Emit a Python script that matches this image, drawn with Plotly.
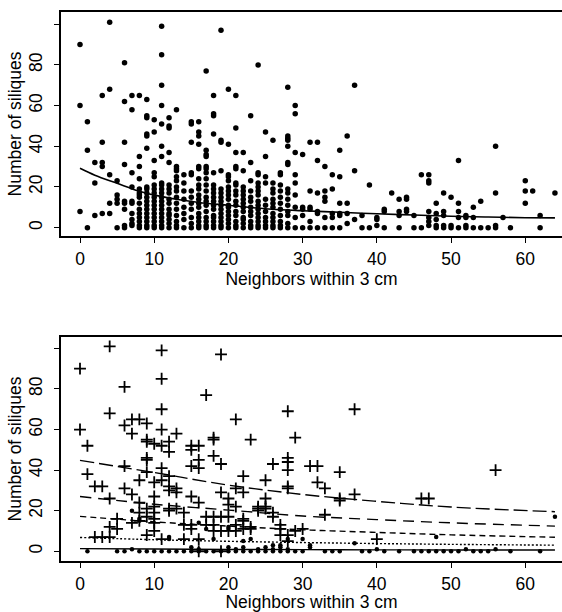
import plotly.graph_objects as go

# ---------------- top panel: all plants ----------------
top_x = [
 0,0,0,
 1,1,1,
 2,2,2,
 3,3,3,3,3,
 4,4,4,4,4,
 5,5,5,5,5,
 6,6,6,6,6,6,6,6,6,
 7,7,7,7,7,7,7,7,7,7,
 8,8,8,8,8,8,8,8,8,8,8,8,8,8,8,
 9,9,9,9,9,9,9,9,9,9,9,9,9,9,9,9,9,9,
 10,10,10,10,10,10,10,10,10,10,10,10,10,10,10,10,10,
 11,11,11,11,11,11,11,11,11,11,11,11,11,11,11,11,11,11,11,11,
 12,12,12,12,12,12,12,12,12,12,12,12,12,12,12,12,
 13,13,13,13,13,13,13,13,13,13,13,13,13,13,13,
 14,14,14,14,14,14,14,14,
 15,15,15,15,15,15,15,15,15,15,15,15,
 16,16,16,16,16,16,16,16,16,16,16,16,16,16,16,16,16,16,
 17,17,17,17,17,17,17,17,17,17,17,17,17,17,17,17,17,17,
 18,18,18,18,18,18,18,18,18,18,18,18,18,18,18,18,18,
 19,19,19,19,19,19,19,19,19,19,19,19,19,19,19,
 20,20,20,20,20,20,20,20,20,20,20,20,20,20,20,20,
 21,21,21,21,21,21,21,21,21,21,21,21,21,21,21,21,
 22,22,22,22,22,22,22,22,22,22,22,22,22,
 23,23,23,23,23,23,23,23,23,23,23,23,
 24,24,24,24,24,24,24,24,24,24,24,24,24,24,24,
 25,25,25,25,25,25,25,25,25,25,25,
 26,26,26,26,26,26,26,26,26,26,26,26,
 27,27,27,27,27,27,27,27,27,27,27,
 28,28,28,28,28,28,28,28,28,28,28,28,28,28,28,
 29,29,29,29,29,29,29,29,29,
 30,30,30,30,30,
 31,31,31,31,31,31,
 32,32,32,32,32,32,
 33,33,33,33,33,33,
 34,34,34,34,34,
 35,35,35,35,35,35,
 36,36,36,36,
 37,37,37,
 38,38,
 39,39,
 40,40,40,
 41,41,41,
 42,
 43,43,43,43,
 44,44,44,44,
 45,45,
 46,46,
 47,47,47,47,47,47,47,
 48,48,48,48,48,
 49,49,49,49,49,
 50,50,50,
 51,51,51,51,51,
 52,52,52,52,
 53,53,53,
 54,54,
 55,
 56,56,56,56,
 57,
 58,
 60,60,60,
 61,
 62,62,
 64,
]
top_y = [
 90,60,8,
 52,38,0,
 32,22,6,
 65,42,32,30,7,
 101,68,26,12,7,
 23,16,14,12,0,
 81,62,42,31,13,12,9,1,0,
 65,58,27,20,13,12,7,4,2,1,
 65,35,30,24,19,17,16,15,12,9,7,5,3,1,0,
 63,55,54,46,45,39,20,19,17,15,13,11,9,7,5,3,1,0,
 53,47,33,27,25,21,19,17,15,13,11,9,7,5,3,1,0,
 99,85,70,60,51,40,35,22,21,19,17,15,13,11,9,7,5,3,1,0,
 54,50,49,37,32,21,19,17,14,12,9,7,6,4,2,0,
 58,30,29,28,25,23,20,18,15,12,9,6,3,1,0,
 26,22,18,14,10,7,4,0,
 52,51,42,27,26,18,15,12,9,5,2,0,
 52,47,45,41,30,29,24,21,19,16,14,12,10,7,5,3,1,0,
 77,38,36,35,30,29,27,24,21,18,15,13,11,8,5,3,1,0,
 65,56,55,46,27,21,19,17,15,13,11,9,6,5,3,1,0,
 97,43,42,28,19,17,15,13,11,9,7,5,3,1,0,
 68,41,26,25,23,20,18,16,14,11,10,8,6,4,2,0,
 65,49,37,30,29,22,21,18,16,13,11,8,6,3,1,0,
 37,28,20,18,16,14,12,10,8,5,4,2,0,
 55,32,23,18,15,13,10,8,6,3,1,0,
 80,27,26,22,20,18,16,13,11,9,7,5,3,1,0,
 47,35,25,22,14,11,8,5,3,1,0,
 43,22,19,17,14,12,10,7,5,3,1,0,
 27,26,21,18,15,12,9,6,3,1,0,
 69,45,44,43,40,32,31,19,17,14,11,8,6,2,0,
 60,56,37,26,22,16,10,5,0,
 36,10,9,6,0,
 42,18,10,9,3,0,
 42,33,17,8,7,0,
 30,18,15,13,5,0,
 26,19,7,5,0,
 38,25,12,7,6,0,
 45,12,7,2,
 70,28,4,
 6,0,
 21,0,
 5,4,1,
 9,8,0,
 17,
 14,8,6,0,
 15,14,9,8,
 6,0,
 26,0,
 26,23,22,8,5,3,1,
 12,7,4,1,0,
 17,8,6,1,0,
 15,1,0,
 33,12,8,5,0,
 6,5,1,0,
 10,5,0,
 13,0,
 0,
 40,17,1,0,
 5,
 0,
 23,18,12,
 18,
 6,0,
 17,
]

# fitted curve, top panel
fit_x = [0, 2, 5, 8, 10, 13, 16, 20, 25, 30, 35, 40, 45, 50, 55, 60, 64]
fit_top = [29.2, 25.8, 21.8, 17.9, 16.0, 14.0, 12.4, 11.0, 9.3, 8.3, 7.6, 6.8, 6.2, 5.6, 5.2, 4.9, 4.8]

# ---------------- bottom panel ----------------
plus_x = [
 0,0, 1,1, 2,2, 3,3, 4,4,4,4,4, 5,5, 6,6,6,6, 7,7,7,7, 8,8,8,8,8,
 9,9,9,9,9,9,9,9,9, 10,10,10,10,10,10,10,10, 11,11,11,11,11,11,11,11,
 12,12,12,12,12,12,12, 13,13,13,13, 14,14,14, 15,15,15,15,15,15, 16,16,16,16,16,16,
 17,17,17, 18,18,18,18,18,18, 19,19,19,19,19,19, 20,20,20,20, 21,21,21,21,21,
 22,22,22,22,22, 23,23,23, 24,24,24, 25,25,25,25, 26,26,26, 27,27,27,
 28,28,28,28,28,28,28,28, 29,29, 30, 31, 32,32, 33,33, 35,35,35, 37,37, 40, 46, 47, 56,
]
plus_y = [
 90,60, 52,38, 32,7, 32,7, 101,68,26,12,7, 16,11, 81,62,42,31, 65,58,28,14, 65,35,24,19,15,
 63,55,54,46,45,39,21,17,8, 53,34,27,22,19,16,14,10, 99,85,70,60,52,41,35,6,
 54,49,37,32,30,21,20, 58,31,29,21, 19,13,6, 52,50,42,27,13,11, 52,45,41,24,6,0,
 77,17,13, 56,55,47,17,13,10, 97,43,29,17,10,0, 26,23,17,10, 65,31,22,13,10,
 37,29,16,15,11, 55,12,11, 22,21,20, 35,26,22,21, 43,19,17, 13,11,8,
 69,46,44,40,32,31,8,5, 56,10, 11, 42, 42,34, 31,18, 39,26,25, 70,28, 6, 26, 26, 40,
]
dot_x = [
 1, 5, 6, 7, 8, 9, 10, 11, 12, 13, 14, 15, 15, 16, 16, 17, 18, 19, 20, 20, 21, 21,
 22, 22, 23, 24, 24, 25, 25, 26, 26, 27, 27, 28, 28, 29, 30, 31, 33, 34, 35, 38, 39,
 40, 41, 43, 45, 46, 47, 48, 49, 50, 51, 52, 53, 54, 55, 56, 58, 62,
 7, 8, 8, 12, 12, 16, 17, 18, 20, 20, 22, 23, 26, 27, 28, 30, 31, 37, 48, 64,
]
dot_y = [
 0, 0, 0, 1, 0, 0, 0, 0, 0, 0, 0, 0, 2, 0, 1, 0, 0, 0, 0, 2, 0, 1,
 0, 2, 0, 0, 1, 0, 2, 0, 1, 0, 2, 0, 1, 0, 0, 2, 0, 0, 0, 0, 0,
 1, 0, 0, 0, 0, 0, 0, 0, 0, 0, 1, 0, 0, 0, 1, 0, 0,
 20, 16, 15, 7, 6, 14, 11, 6, 12, 11, 5, 6, 3, 3, 6, 6, 3, 4, 7, 17,
]

# fitted curves, bottom panel
fit2_x = [0, 10, 20, 30, 40, 50, 64]
fit2_longdash = [44.8, 38.8, 32.6, 28.0, 24.6, 21.8, 19.5]
fit2_dash = [27.0, 23.2, 20.3, 17.4, 15.6, 14.0, 12.4]
fit2_shortdash = [17.2, 14.5, 12.4, 10.6, 9.3, 8.1, 6.9]
fit2_dot = [6.8, 5.7, 4.9, 4.3, 3.8, 3.4, 3.0]
fit2_solid = [1.3, 1.1, 0.9, 0.8, 0.7, 0.6, 0.6]

FONT = "Liberation Sans"
FS = 17.5

fig = go.Figure()

fig.add_trace(go.Scatter(x=top_x, y=top_y, mode="markers", xaxis="x", yaxis="y",
                         marker=dict(symbol="circle", size=5.5, color="black"),
                         showlegend=False))
fig.add_trace(go.Scatter(x=fit_x, y=fit_top, mode="lines", xaxis="x", yaxis="y",
                         line=dict(color="black", width=1.6, shape="spline"),
                         showlegend=False))

fig.add_trace(go.Scatter(x=dot_x, y=dot_y, mode="markers", xaxis="x2", yaxis="y2",
                         marker=dict(symbol="circle", size=4.5, color="black"),
                         showlegend=False))
fig.add_trace(go.Scatter(x=plus_x, y=plus_y, mode="markers", xaxis="x2", yaxis="y2",
                         marker=dict(symbol="cross-thin", size=8.5,
                                     line=dict(color="black", width=1.8)),
                         showlegend=False))
for ys, dash in [(fit2_longdash, "14px,5px"), (fit2_dash, "11px,7px"),
                 (fit2_shortdash, "6px,4px"), (fit2_dot, "2px,2px"),
                 (fit2_solid, "solid")]:
    fig.add_trace(go.Scatter(x=fit2_x, y=ys, mode="lines", xaxis="x2", yaxis="y2",
                             line=dict(color="black", width=1.4, dash=dash, shape="spline"),
                             showlegend=False))

xax = dict(range=[-2.56, 64.95], tickmode="array", tickvals=[0, 10, 20, 30, 40, 50, 60],
           ticks="outside", ticklen=5, tickwidth=1, tickcolor="black",
           showline=True, mirror=True, linecolor="black", linewidth=1.8,
           showgrid=False, zeroline=False, ticklabelstandoff=1, automargin=False,
           tickfont=dict(family=FONT, size=FS, color="black"),
           title=dict(text="Neighbors within 3 cm", standoff=0,
                      font=dict(family=FONT, size=FS, color="black")))
yax = dict(tickmode="array", tickvals=[0, 20, 40, 60, 80, 100],
           ticktext=["0", "20", "40", "60", "80", ""], tickangle=-90,
           ticks="outside", ticklen=5, tickwidth=1, tickcolor="black",
           showline=True, mirror=False, linecolor="black", linewidth=1.8,
           showgrid=False, zeroline=False, ticklabelstandoff=5, automargin=False,
           tickfont=dict(family=FONT, size=FS, color="black"),
           title=dict(text="Number of siliques", standoff=0,
                      font=dict(family=FONT, size=FS, color="black")))

fig.update_layout(
    width=562, height=612,
    margin=dict(l=61, r=0, t=12, b=51, autoexpand=False),
    paper_bgcolor="white", plot_bgcolor="white",
    xaxis=dict(xax, domain=[0, 1], anchor="y"),
    yaxis=dict(yax, domain=[0.592, 1], range=[-4.1, 106], anchor="x"),
    xaxis2=dict(xax, domain=[0, 1], anchor="y2"),
    yaxis2=dict(yax, domain=[0, 0.408], range=[-4.8, 105.6], anchor="x2"),
)

fig.write_html("out.html", config={"displayModeBar": False},
               post_script="document.body.style.margin='0px';document.body.style.padding='0px';document.body.style.overflow='hidden';")
